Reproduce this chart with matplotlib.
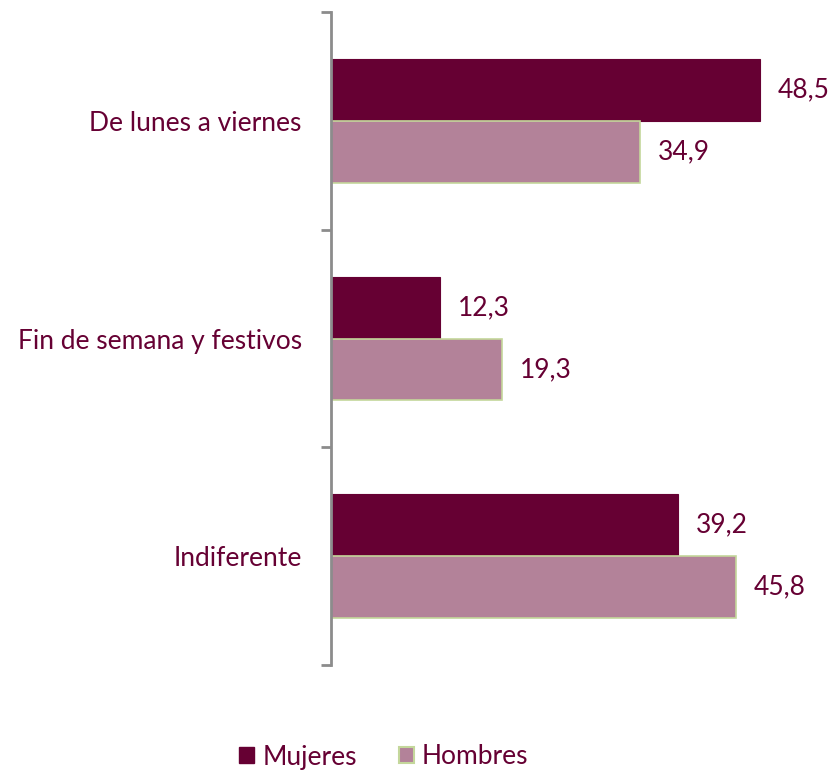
import matplotlib
matplotlib.use("Agg")
import matplotlib.pyplot as plt
from matplotlib.patches import Patch
import numpy as np

categories = ["De lunes a viernes", "Fin de semana y festivos", "Indiferente"]
mujeres = [48.5, 12.3, 39.2]
hombres = [34.9, 19.3, 45.8]
series_names = ["Mujeres", "Hombres"]

text_color = "#660033"
c_muj = "#660033"
c_hom = "#B38299"
edge_hom = "#C4D79B"

plt.rcParams['font.family'] = ['Lato', 'DejaVu Sans']
FS = 19

W, H = 832, 771
fig = plt.figure(figsize=(W/100, H/100), dpi=100)
ax_left, ax_right, ax_top, ax_bot = 331, 800, 12, 665
ax = fig.add_axes([ax_left/W, 1-ax_bot/H, (ax_right-ax_left)/W, (ax_bot-ax_top)/H])

px_per_unit = 429/48.5
ax.set_xlim(0, (ax_right-ax_left)/px_per_unit)
ax.set_ylim(2.5, -0.5)

y = np.arange(len(categories))
bh = 62/217.7
ax.barh(y - bh/2, mujeres, height=bh, color=c_muj, edgecolor=c_muj, linewidth=0.8)
ax.barh(y + bh/2, hombres, height=bh, color=c_hom, edgecolor=edge_hom, linewidth=1.2)

off = 18/px_per_unit
for yi, v in zip(y, mujeres):
    ax.text(v + off, yi - bh/2, f"{v:.1f}".replace(".", ","), va="center", ha="left",
            fontsize=FS, color=text_color)
for yi, v in zip(y, hombres):
    ax.text(v + off, yi + bh/2, f"{v:.1f}".replace(".", ","), va="center", ha="left",
            fontsize=FS, color=text_color)

for s in ["top", "right", "bottom"]:
    ax.spines[s].set_visible(False)
ax.spines["left"].set_color("#8C8C8C")
ax.spines["left"].set_linewidth(2)
ax.set_xticks([])
ax.set_yticks([-0.5, 0.5, 1.5, 2.5], minor=False)
ax.set_yticklabels([])
ax.tick_params(axis="y", which="major", length=7, width=2, color="#8C8C8C", direction="out")
ax.set_yticks(y, minor=True)
ax.set_yticklabels(categories, minor=True, fontsize=FS, color=text_color)
ax.tick_params(axis="y", which="minor", length=0, pad=21)

handles = [Patch(facecolor=c_muj, edgecolor=c_muj), Patch(facecolor=c_hom, edgecolor=edge_hom, linewidth=1.5)]
fig.legend(handles, series_names, loc="center", bbox_to_anchor=(384/W, 1-757/H), ncol=2,
           frameon=False, fontsize=FS, labelcolor=text_color, handlelength=0.57, handleheight=0.57,
           handletextpad=0.3, columnspacing=1.6)

fig.savefig("out.png", dpi=100)
